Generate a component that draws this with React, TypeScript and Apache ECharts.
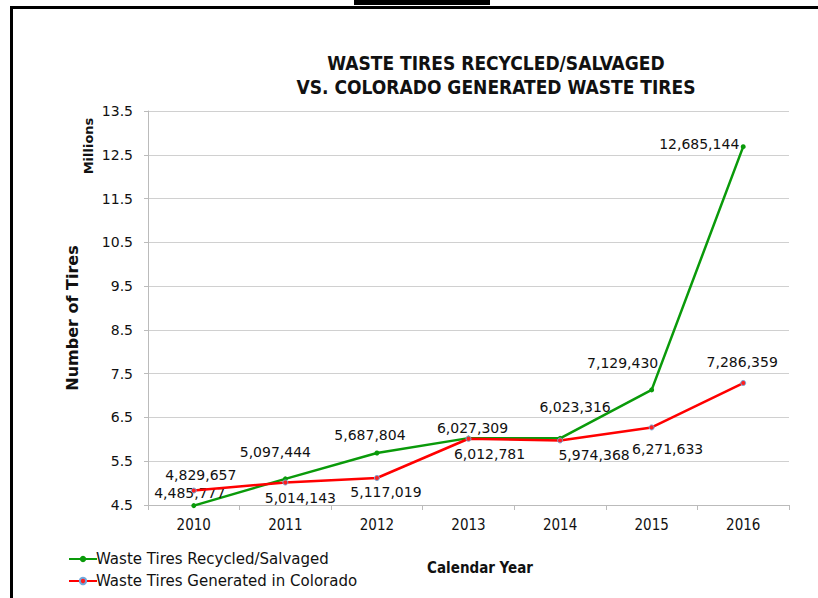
import React, { useEffect, useRef } from "react";
import * as echarts from "echarts";

const years = ["2010", "2011", "2012", "2013", "2014", "2015", "2016"];
const recycled = [4485777, 5097444, 5687804, 6027309, 6023316, 7129430, 12685144];
const generated = [4829657, 5014143, 5117019, 6012781, 5974368, 6271633, 7286359];
const yTicks = [4.5, 5.5, 6.5, 7.5, 8.5, 9.5, 10.5, 11.5, 12.5, 13.5];

// label offsets (style only)
const recycledLabelOffsets = [[-4, -13], [-10, -27], [-7, -18], [4, -10], [15, -31], [-29, -27], [-44, -3]];
const generatedLabelOffsets = [[7, -16], [15, 16], [9, 14], [21, 15], [34, 15], [16, 22], [-1, -21]];

const fmt = (v: number) => v.toLocaleString("en-US");

export default function App() {
  const ref = useRef<HTMLDivElement>(null);
  useEffect(() => {
    document.body.style.margin = "0";
    const chart = echarts.init(ref.current!, null, { renderer: "svg" });
    const labelFont = { fontFamily: "DejaVu Sans", fontSize: 14, color: "#111" };
    const mk = (vals: number[], offs: number[][]) =>
      vals.map((v, i) => ({
        value: v / 1e6,
        label: {
          show: true,
          position: "inside",
          offset: offs[i],
          formatter: fmt(v),
          ...labelFont,
        },
      }));
    chart.setOption({
      animation: false,
      backgroundColor: "#fff",
      title: {
        text: "WASTE TIRES RECYCLED/SALVAGED\nVS. COLORADO GENERATED WASTE TIRES",
        left: 491,
        top: 46,
        textAlign: "center",
        textStyle: {
          fontFamily: "DejaVu Sans Condensed",
          fontWeight: "bold",
          fontSize: 19,
          lineHeight: 24,
          color: "#111",
        },
      },
      legend: {
        orient: "vertical",
        left: 63,
        top: 545,
        itemWidth: 28,
        itemHeight: 8,
        itemGap: 4,
        textStyle: { fontFamily: "DejaVu Sans", fontSize: 15, color: "#111", padding: [0, 0, 0, -6], lineHeight: 18 },
        data: ["Waste Tires Recycled/Salvaged", "Waste Tires Generated in Colorado"],
      },
      grid: { left: 148, right: 29, top: 111, bottom: 93 },
      xAxis: {
        type: "category",
        data: years,
        boundaryGap: true,
        axisLine: { lineStyle: { color: "#bbb", width: 1 } },
        axisTick: { show: true, length: 5, lineStyle: { color: "#bbb" } },
        axisLabel: { fontFamily: "DejaVu Sans Condensed", fontSize: 15, color: "#111", margin: 12 },
      },
      yAxis: {
        type: "value",
        min: 4.5,
        max: 13.5,
        interval: 1,
        axisLine: { show: true, lineStyle: { color: "#bbb" } },
        axisTick: { show: true, length: 4, lineStyle: { color: "#bbb" } },
        axisLabel: {
          fontFamily: "DejaVu Sans",
          fontSize: 14,
          color: "#111",
          margin: 15,
          formatter: (v: number) => (yTicks.includes(v) ? v.toFixed(1) : ""),
        },
        splitLine: { lineStyle: { color: "#d0d0d0", width: 1 } },
      },
      graphic: [
        { type: "rect", shape: { x: 354, y: 0, width: 136, height: 5 }, style: { fill: "#000" } },
        { type: "rect", shape: { x: 10, y: 6, width: 808, height: 3 }, style: { fill: "#000" } },
        { type: "rect", shape: { x: 10, y: 6, width: 3, height: 592 }, style: { fill: "#000" } },
        {
          type: "text",
          x: 88,
          y: 146,
          rotation: Math.PI / 2,
          style: {
            text: "Millions",
            fontFamily: "DejaVu Sans",
            fontWeight: "bold",
            fontSize: 13,
            fill: "#111",
            align: "center",
            verticalAlign: "middle",
          },
        },
        {
          type: "text",
          x: 72,
          y: 318,
          rotation: Math.PI / 2,
          style: {
            text: "Number of Tires",
            fontFamily: "DejaVu Sans",
            fontWeight: "bold",
            fontSize: 16,
            fill: "#111",
            align: "center",
            verticalAlign: "middle",
          },
        },
        {
          type: "text",
          x: 480,
          y: 568,
          style: {
            text: "Calendar Year",
            fontFamily: "DejaVu Sans Condensed",
            fontWeight: "bold",
            fontSize: 15,
            fill: "#111",
            align: "center",
            verticalAlign: "middle",
          },
        },
      ],
      series: [
        {
          name: "Waste Tires Recycled/Salvaged",
          type: "line",
          data: mk(recycled, recycledLabelOffsets),
          symbol: "circle",
          symbolSize: 5,
          showAllSymbol: true,
          clip: false,
          lineStyle: { color: "#0a9a0a", width: 2.5 },
          itemStyle: { color: "#0a9a0a" },
          z: 3,
        },
        {
          name: "Waste Tires Generated in Colorado",
          type: "line",
          data: mk(generated, generatedLabelOffsets),
          symbol: "circle",
          symbolSize: 5,
          showAllSymbol: true,
          lineStyle: { color: "#ff0000", width: 2.5 },
          itemStyle: { color: "#ff2020", borderColor: "#6fa8dc", borderWidth: 1 },
          z: 4,
        },
      ],
    });
    return () => chart.dispose();
  }, []);
  return <div ref={ref} style={{ width: 818, height: 598 }} />;
}
